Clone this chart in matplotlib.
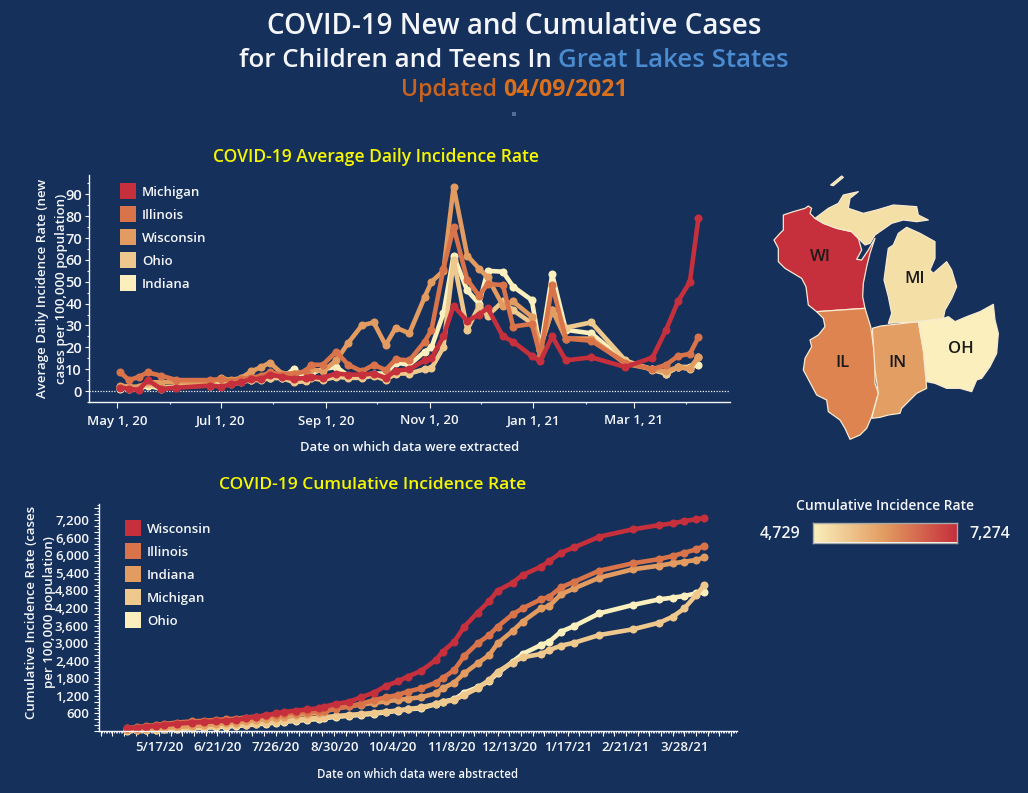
import matplotlib
matplotlib.use("Agg")
import matplotlib.dates as mdates
import matplotlib.pyplot as plt
import numpy as np
import pandas as pd
from matplotlib.colors import LinearSegmentedColormap
from matplotlib.patches import Polygon, Rectangle

W, H = 1028, 793
BG = "#15305b"
TXT = "#f4f6fa"
YELLOW = "#f6f600"
C1, C2, C3, C4, C5 = "#c62f3c", "#d9734a", "#e29b60", "#eec88c", "#fbf0bd"
FONT = "Open Sans"

plt.rcParams["font.family"] = [FONT, "DejaVu Sans"]

# points of the daily chart
dates = pd.to_datetime([
    "2020-05-03", "2020-05-08", "2020-05-14", "2020-05-19", "2020-05-27", "2020-06-05",
    "2020-06-25", "2020-07-01", "2020-07-07", "2020-07-13", "2020-07-19", "2020-07-25",
    "2020-07-30", "2020-08-06", "2020-08-13", "2020-08-20", "2020-08-23", "2020-08-30",
    "2020-09-07", "2020-09-14", "2020-09-22", "2020-09-29", "2020-10-06", "2020-10-12",
    "2020-10-20", "2020-10-29", "2020-11-02", "2020-11-09", "2020-11-15", "2020-11-23",
    "2020-11-30", "2020-12-05", "2020-12-14", "2020-12-20", "2020-12-31", "2021-01-05",
    "2021-01-12", "2021-01-20", "2021-02-04", "2021-02-24", "2021-03-12", "2021-03-20",
    "2021-03-27", "2021-04-03", "2021-04-08",
])

# average daily incidence
daily_michigan = [1.5, 1, .5, 5, 1, 1.5, 2.5, 2, 3, 4, 5.5, 5.5, 7.5, 6.5, 5.5, 6, 6.5, 6, 8, 7.5, 7.5, 8,
                  6, 9.3, 10, 14, 15, 25, 39, 32, 35, 38, 25, 22.6, 16, 13.7, 25, 14, 15.4, 11, 15.3, 28, 41, 50, 79]
daily_illinois = [8.5, 5, 6.5, 8.5, 7, 5, 5, 5.5, 4.5, 5.5, 6, 7, 8.5, 7.5, 8, 9, 12, 12, 18, 12, 9, 12,
                  9.6, 14.5, 14, 22.6, 28, 56, 75, 51, 43.5, 49, 48.5, 29.5, 30.7, 16, 48.5, 24, 23, 13, 10, 12, 16, 17, 24.6]
daily_wisconsin = [2.5, 2, 2, 4, 4, 4, 4, 6, 5, 6, 9, 11, 13, 8, 8, 9, 10, 9, 14, 22, 30, 31.4,
                   21, 29, 26.4, 43, 50, 55, 93.5, 62, 56, 52, 39, 41, 34, 20, 37, 24, 24, 12.5, 10, 9, 11, 10.4, 15.4]
daily_ohio = [2, 1.5, 1.5, 3, 1.5, 2, 2.5, 3, 3, 4, 5, 5, 6, 6, 4, 4.5, 6, 5, 6.5, 6, 6, 7,
              5, 8, 8, 10, 10.4, 20, 60, 28, 39, 34.5, 41, 37, 31, 20, 37, 29, 31.4, 14, 9.6, 8, 11, 10, 15.7]
daily_indiana = [1, 1, 1, 2.5, 1, 2, 3, 3, 4, 5, 5, 6, 6, 6, 10, 6, 8, 10, 11, 7, 7, 8,
                 8, 13, 12, 18, 20, 35.5, 62, 46, 40, 55, 54.6, 47.8, 41.6, 18.8, 53.4, 28, 26.4, 13.4, 10, 8, 11, 11, 12]

# cumulative incidence has its own, slightly longer list of report dates
cum_dates = pd.to_datetime([
    "2020-04-28", "2020-05-04", "2020-05-09", "2020-05-15", "2020-05-20", "2020-05-28", "2020-06-06",
    "2020-06-13", "2020-06-20", "2020-06-26", "2020-07-02", "2020-07-08", "2020-07-14", "2020-07-20",
    "2020-07-26", "2020-07-31", "2020-08-07", "2020-08-14", "2020-08-21", "2020-08-24", "2020-08-31",
    "2020-09-08", "2020-09-15", "2020-09-23", "2020-09-30", "2020-10-07", "2020-10-13", "2020-10-21",
    "2020-10-30", "2020-11-03", "2020-11-10", "2020-11-16", "2020-11-24", "2020-12-01", "2020-12-06",
    "2020-12-15", "2020-12-21", "2021-01-01", "2021-01-06", "2021-01-13", "2021-01-21", "2021-02-05",
    "2021-02-25", "2021-03-13", "2021-03-21", "2021-03-28", "2021-04-04", "2021-04-09",
])
cum_wisconsin = [90, 110, 150, 170, 205, 250, 285, 305, 330, 350, 375, 430, 490, 535, 600, 650, 695, 740, 775, 830, 925, 1000, 1150, 1310, 1540, 1690,
                 1855, 2048, 2424, 2708, 3050, 3562, 4040, 4438, 4790, 5064, 5325, 5610, 5800, 6088, 6270, 6635, 6885, 7030, 7090, 7170, 7226, 7274]
cum_illinois = [100, 130, 170, 200, 240, 290, 330, 350, 375, 400, 420, 460, 490, 520, 555, 590, 625, 655, 680, 695, 760, 850, 930, 1058, 1150, 1229,
                1343, 1457, 1650, 1798, 2082, 2560, 2993, 3277, 3562, 3983, 4188, 4495, 4586, 4905, 5098, 5474, 5724, 5870, 5975, 6088, 6200, 6327]
cum_indiana = [40, 50, 70, 90, 110, 140, 170, 195, 230, 270, 290, 330, 370, 410, 450, 490, 540, 590, 620, 660, 770, 840, 900, 960, 1010, 1060,
               1100, 1150, 1286, 1457, 1650, 1969, 2310, 2595, 2993, 3414, 3733, 4188, 4268, 4666, 4870, 5235, 5519, 5645, 5724, 5781, 5838, 5929]
cum_michigan = [20, 30, 40, 50, 70, 90, 110, 130, 155, 180, 200, 220, 250, 280, 310, 340, 380, 420, 450, 470, 510, 550, 580, 620, 660, 700,
                740, 808, 920, 979, 1058, 1229, 1457, 1741, 2025, 2333, 2515, 2630, 2765, 2913, 3015, 3277, 3471, 3698, 3903, 4188, 4643, 4984]
cum_ohio = [15, 20, 30, 40, 55, 75, 95, 110, 130, 150, 170, 195, 225, 255, 285, 315, 345, 380, 410, 440, 480, 520, 550, 590, 640, 690,
            740, 774, 920, 1000, 1081, 1309, 1491, 1718, 1969, 2367, 2630, 2936, 3050, 3391, 3585, 4017, 4302, 4495, 4552, 4610, 4700, 4729]

# map
state_names = ["WI", "IL", "IN", "MI", "OH"]
state_values = [7274, 6327, 5929, 4984, 4729]
state_colors = [C1, "#dd8450", "#e39e64", "#f4dfa6", "#fbf0bd"]
outline_wi = [(70, 135), (100, 125), (135, 115), (145, 108), (155, 115), (150, 130), (165, 145), (190, 160), (230, 175), (275, 185),
              (295, 205), (305, 240), (290, 268), (305, 270), (325, 240), (345, 205), (330, 250), (320, 290), (310, 340), (308, 380),
              (315, 415), (240, 420), (170, 425), (145, 405), (138, 350), (125, 325), (100, 310), (75, 295), (55, 275), (55, 235), (42, 210),
              (60, 190), (70, 180)]
outline_il = [(170, 425), (315, 415), (332, 470), (345, 560), (345, 640), (355, 670), (335, 740), (320, 775), (300, 795), (270, 808),
              (255, 775), (240, 750), (205, 725), (200, 690), (170, 675), (130, 600), (135, 565), (155, 530), (150, 510), (175, 495),
              (195, 470), (190, 445)]
outline_in = [(337, 475), (362, 468), (475, 455), (490, 540), (500, 655), (470, 670), (445, 695), (425, 715), (420, 730), (385, 735),
              (360, 742), (335, 745), (355, 670), (345, 600)]
outline_mi = [(385, 460), (395, 430), (385, 380), (372, 330), (380, 270), (385, 235), (400, 225), (415, 190), (440, 172), (480, 190),
              (525, 215), (525, 265), (510, 300), (520, 310), (560, 275), (575, 300), (590, 350), (575, 385), (555, 420), (550, 445), (475, 455)]
outline_up = [(165, 145), (205, 115), (235, 100), (250, 75), (295, 65), (270, 85), (265, 115), (310, 130), (350, 120), (400, 105),
              (470, 110), (475, 135), (505, 150), (470, 155), (430, 150), (395, 160), (345, 195), (330, 220), (315, 225), (295, 205),
              (275, 185), (230, 175), (190, 160)]
outline_isle = [(212, 45), (245, 18), (250, 22), (220, 47)]
outline_oh = [(475, 455), (550, 445), (565, 440), (585, 455), (620, 440), (660, 425), (700, 403), (705, 450), (715, 490), (710, 550),
              (690, 590), (665, 625), (650, 630), (635, 665), (600, 655), (560, 655), (525, 640), (500, 635), (490, 540)]
label_spots = [(182, 262), (248, 580), (413, 580), (465, 328), (603, 537)]

cmap = LinearSegmentedColormap.from_list("lakes", [C5, C3, C1])


def px_axes(fig, left, top, right, bottom):
    return fig.add_axes([left / W, 1 - bottom / H, (right - left) / W, (bottom - top) / H])


def put(fig, x, y, s, **kw):
    kw.setdefault("color", TXT)
    kw.setdefault("ha", "center")
    kw.setdefault("va", "center")
    return fig.text(x / W, 1 - (y + 1.5) / H, s, **kw)


def put_parts(fig, center, y, parts, size):
    # title lines with more than one colour, so measure and place piece by piece
    rend = fig.canvas.get_renderer()
    items = [put(fig, 0, y, s, color=c, fontweight=wt, fontsize=size, ha="left") for s, c, wt in parts]
    widths = [t.get_window_extent(rend).width for t in items]
    x = center - sum(widths) / 2
    for t, w in zip(items, widths):
        t.set_x(x / W)
        x += w


def swatch_legend(fig, x, y0, names, colors):
    for i, (name, col) in enumerate(zip(names, colors)):
        y = y0 + i * 23
        fig.add_artist(Rectangle((x / W, 1 - (y + 8) / H), 16 / W, 16 / H, transform=fig.transFigure, color=col, lw=0))
        put(fig, x + 22, y, name, ha="left", fontsize=9.5, fontweight="semibold")


def style_axes(ax):
    ax.set_facecolor("none")
    for side in ["top", "right"]:
        ax.spines[side].set_visible(False)
    for side in ["left", "bottom"]:
        ax.spines[side].set_color(TXT)
        ax.spines[side].set_linewidth(1)


def draw_line(ax, x, y, col):
    ax.plot(x, y, color=col, lw=3.3, marker="o", ms=5.8, mew=0, solid_joinstyle="round", clip_on=False)


fig = plt.figure(figsize=(W / 100, H / 100), dpi=100, facecolor=BG)
fig.canvas.draw()

put(fig, 514, 25, "COVID-19 New and Cumulative Cases", fontsize=20, fontweight="semibold")
put_parts(fig, 514, 59, [("for Children and Teens In ", TXT, "semibold"), ("Great Lakes States", "#4b8bd0", "semibold")], 18.6)
put_parts(fig, 514, 89, [("Updated ", "#c8641f", "semibold"), ("04/09/2021", "#d9701e", "bold")], 16.7)
fig.add_artist(Rectangle((512 / W, 1 - 116 / H), 4 / W, 4 / H, transform=fig.transFigure, color="#4f6f9c", lw=0))

# top chart
ax1 = px_axes(fig, 89, 175, 730, 402)
style_axes(ax1)
may1 = mdates.date2num(pd.Timestamp("2020-05-01"))
ax1.set_xlim(may1 - 28 / 1.7, may1 + 613 / 1.7)
ax1.set_ylim(-5.03, 98.85)
ax1.axhline(0, color=TXT, lw=0.9, ls=(0, (1, 1.2)))
for vals, col in [(daily_indiana, C5), (daily_ohio, C4), (daily_wisconsin, C3), (daily_illinois, C2), (daily_michigan, C1)]:
    draw_line(ax1, dates, vals, col)
major_x1 = pd.to_datetime(["2020-05-01", "2020-07-01", "2020-09-01", "2020-11-01", "2021-01-01", "2021-03-01"])
minor_x1 = pd.to_datetime(["2020-06-01", "2020-08-01", "2020-10-01", "2020-12-01", "2021-02-01", "2021-04-01"])
ax1.set_xticks(major_x1)
ax1.set_xticklabels(["May 1, 20", "Jul 1, 20", "Sep 1, 20", "Nov 1, 20", "Jan 1, 21", "Mar 1, 21"])
ax1.set_xticks(minor_x1, minor=True)
ax1.set_yticks(np.arange(0, 100, 10))
ax1.set_yticks(np.arange(-5, 100, 10), minor=True)
ax1.tick_params(axis="x", which="major", colors=TXT, length=4, width=0.8, labelsize=9.5, pad=5)
ax1.tick_params(axis="y", which="major", colors=TXT, length=3, width=0.8, labelsize=10.5, pad=2)
ax1.tick_params(axis="both", which="minor", colors=TXT, length=1.5, width=0.8)
for lab in ax1.get_xticklabels() + ax1.get_yticklabels():
    lab.set_fontweight("semibold")

put(fig, 376, 155, "COVID-19 Average Daily Incidence Rate", color=YELLOW, fontsize=12.65, fontweight="semibold")
put(fig, 410, 446, "Date on which data were extracted", fontsize=9.4, fontweight="semibold")
put(fig, 52, 287, "Average Daily Incidence Rate (new\ncases per 100,000 population)", rotation=90, fontsize=9.5,
    fontweight="semibold", linespacing=1.5)
swatch_legend(fig, 120, 191, ["Michigan", "Illinois", "Wisconsin", "Ohio", "Indiana"], [C1, C2, C3, C4, C5])

# bottom chart
ax2 = px_axes(fig, 99.3, 504, 736.7, 731)
style_axes(ax2)
may17 = mdates.date2num(pd.Timestamp("2020-05-17"))
ax2.set_xlim(may17 - 59.7 / 1.668, may17 + 577.7 / 1.668)
ax2.set_ylim(0, 7750)
for vals, col in [(cum_ohio, C5), (cum_michigan, C4), (cum_indiana, C3), (cum_illinois, C2), (cum_wisconsin, C1)]:
    draw_line(ax2, cum_dates, vals, col)
label_dates = pd.date_range("2020-05-17", "2021-03-28", freq="35D")
week_dates = pd.date_range("2020-04-12", "2021-04-28", freq="7D")
day_dates = pd.date_range("2020-04-12", "2021-04-28", freq="1D")
ax2.set_xticks(week_dates)
ax2.set_xticklabels([f"{d.month}/{d.day}/{d.strftime('%y')}" if d in label_dates else "" for d in week_dates])
ax2.set_xticks(day_dates, minor=True)
ax2.set_yticks(np.arange(0, 7800, 200))
ax2.set_yticklabels([f"{v:,}" if v and v % 600 == 0 else "" for v in range(0, 7800, 200)])
ax2.set_yticks(np.arange(0, 7800, 100), minor=True)
ax2.tick_params(axis="both", which="major", colors=TXT, length=3.5, width=0.8, labelsize=9.5, pad=4)
ax2.tick_params(axis="both", which="minor", colors=TXT, length=1.5, width=0.6)
for lab in ax2.get_xticklabels() + ax2.get_yticklabels():
    lab.set_fontweight("semibold")

put(fig, 373, 484, "COVID-19 Cumulative Incidence Rate", color=YELLOW, fontsize=12.6, fontweight="semibold")
put(fig, 418, 773, "Date on which data were abstracted", fontsize=8.3, fontweight="semibold")
put(fig, 41, 611, "Cumulative Incidence Rate (cases\nper 100,000 population)", rotation=90, fontsize=9.5,
    fontweight="semibold", linespacing=1.5)
swatch_legend(fig, 125, 528, ["Wisconsin", "Illinois", "Indiana", "Michigan", "Ohio"], [C1, C2, C3, C4, C5])

# map, traced in its own coordinates
ax3 = px_axes(fig, 760, 170, 1020, 450)
ax3.set_xlim(0, 780)
ax3.set_ylim(840, 0)
ax3.axis("off")
shapes = [[outline_wi], [outline_il], [outline_in], [outline_mi, outline_up, outline_isle], [outline_oh]]
for name, col, parts, spot in zip(state_names, state_colors, shapes, label_spots):
    for part in parts:
        ax3.add_patch(Polygon(part, closed=True, facecolor=col, edgecolor="#f7ead0", lw=0.9, joinstyle="round"))
    ax3.text(spot[0], spot[1], name, color="#1a1a1a", ha="center", va="center", fontsize=12, fontweight="semibold")

# colour scale
low, high = min(state_values), max(state_values)
put(fig, 885, 504, "Cumulative Incidence Rate", fontsize=10, fontweight="semibold")
ax4 = px_axes(fig, 812.5, 522.5, 956.5, 542.5)
ax4.imshow(np.linspace(0, 1, 256)[None, :], cmap=cmap, aspect="auto")
ax4.set_xticks([])
ax4.set_yticks([])
for spine in ax4.spines.values():
    spine.set_color("#a9a9a5")
    spine.set_linewidth(1)
put(fig, 780, 532, f"{low:,}", fontsize=11.5, fontweight="semibold")
put(fig, 990, 532, f"{high:,}", fontsize=11.5, fontweight="semibold")

fig.savefig("out.png", dpi=100, facecolor=BG)
